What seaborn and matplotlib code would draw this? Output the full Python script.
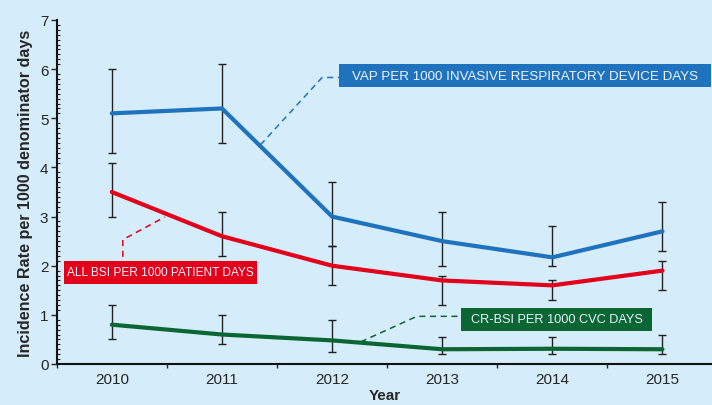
import numpy as np
import pandas as pd
import matplotlib
matplotlib.use("Agg")
import matplotlib.pyplot as plt
from matplotlib.patches import Rectangle
from matplotlib.ticker import MultipleLocator, FixedLocator
import seaborn as sns

# values
years = [2010, 2011, 2012, 2013, 2014, 2015]

vap = [5.1, 5.2, 3.0, 2.5, 2.17, 2.7]
vap_lo = [4.3, 4.5, 2.4, 2.0, 2.0, 2.3]
vap_hi = [6.0, 6.1, 3.7, 3.1, 2.8, 3.3]

bsi = [3.5, 2.6, 2.0, 1.7, 1.6, 1.9]
bsi_lo = [3.0, 2.2, 1.6, 1.2, 1.3, 1.5]
bsi_hi = [4.1, 3.1, 2.4, 1.8, 1.7, 2.1]

crbsi = [0.8, 0.6, 0.48, 0.3, 0.31, 0.3]
crbsi_lo = [0.5, 0.4, 0.25, 0.2, 0.2, 0.2]
crbsi_hi = [1.2, 1.0, 0.9, 0.55, 0.55, 0.6]

series_names = ["VAP", "BSI", "CRBSI"]
colors = {"VAP": "#1f72bd", "BSI": "#e3001b", "CRBSI": "#0a6633"}
labels = {
    "VAP": "VAP PER 1000 INVASIVE RESPIRATORY DEVICE DAYS",
    "BSI": "ALL BSI PER 1000 PATIENT DAYS",
    "CRBSI": "CR-BSI PER 1000 CVC DAYS",
}
label_sizes = {"VAP": 9.6, "BSI": 8.6, "CRBSI": 9.2}

df = pd.DataFrame({
    "year": years * 3,
    "rate": vap + bsi + crbsi,
    "series": ["VAP"] * 6 + ["BSI"] * 6 + ["CRBSI"] * 6,
})

bg = "#d5ecfa"
sns.set_style("ticks")
plt.rcParams["font.family"] = ["Liberation Sans", "DejaVu Sans"]

fig = plt.figure(figsize=(7.12, 4.06), dpi=100, facecolor=bg)
ax = fig.add_axes([0.0797, 0.1010, 0.9203, 0.8473])
ax.set_facecolor(bg)

# error bars (behind the lines)
for val, lo, hi in [(vap, vap_lo, vap_hi), (bsi, bsi_lo, bsi_hi), (crbsi, crbsi_lo, crbsi_hi)]:
    val = np.array(val)
    err = [val - np.array(lo), np.array(hi) - val]
    ax.errorbar(years, val, yerr=err, fmt="none", ecolor="#222222",
                elinewidth=1.0, capsize=3, capthick=1.0, zorder=1)

sns.lineplot(data=df, x="year", y="rate", hue="series", hue_order=series_names,
             palette=colors, linewidth=3, legend=False, ax=ax, zorder=2)

# label boxes with dashed leaders
boxes = {
    "VAP": (0.4305, 0.805, 0.5680, 0.067),
    "BSI": (0.0110, 0.2326, 0.2942, 0.0668),
    "CRBSI": (0.6168, 0.0968, 0.2919, 0.0660),
}
leaders = {
    "VAP": ([2011.35, 2011.91, 2012.07], [4.46, 5.83, 5.83]),
    "BSI": ([2010.10, 2010.10, 2010.48], [2.18, 2.53, 2.99]),
    "CRBSI": ([2012.26, 2012.77, 2013.17], [0.45, 0.97, 0.97]),
}
for name in series_names:
    x0, y0, w, h = boxes[name]
    ax.add_patch(Rectangle((x0, y0), w, h, transform=ax.transAxes,
                           facecolor=colors[name], edgecolor="none",
                           clip_on=False, zorder=4))
    ax.text(x0 + w / 2, y0 + h / 2, labels[name], transform=ax.transAxes,
            ha="center", va="center", color="#eef4ff",
            fontsize=label_sizes[name], zorder=5)
    lx, ly = leaders[name]
    ax.plot(lx, ly, color=colors[name], linewidth=1.1, linestyle=(0, (4, 3)), zorder=3)

ax.set_xlim(2009.5, 2015.45)
ax.set_ylim(0, 7)

ax.xaxis.set_major_locator(FixedLocator(years))
ax.xaxis.set_minor_locator(FixedLocator([2009.5 + i for i in range(7)]))
ax.yaxis.set_major_locator(MultipleLocator(1))
ax.yaxis.set_minor_locator(MultipleLocator(0.1))

ax.tick_params(axis="x", which="major", length=0, labelsize=11, pad=6)
ax.tick_params(axis="x", which="minor", direction="out", length=3, width=1)
ax.tick_params(axis="y", which="major", direction="out", length=4, width=1, labelsize=11, pad=2)
ax.tick_params(axis="y", which="minor", direction="in", length=2.5, width=0.8)

for side in ["top", "right"]:
    ax.spines[side].set_visible(False)
for side in ["left", "bottom"]:
    ax.spines[side].set_linewidth(1.5)
    ax.spines[side].set_color("#111111")

ax.set_xlabel("Year", fontsize=11, fontweight="bold", labelpad=1)
ax.set_ylabel("Incidence Rate per 1000 denominator days", fontsize=11.6,
              fontweight="bold", labelpad=5)

fig.savefig("out.png", dpi=100, facecolor=bg)
